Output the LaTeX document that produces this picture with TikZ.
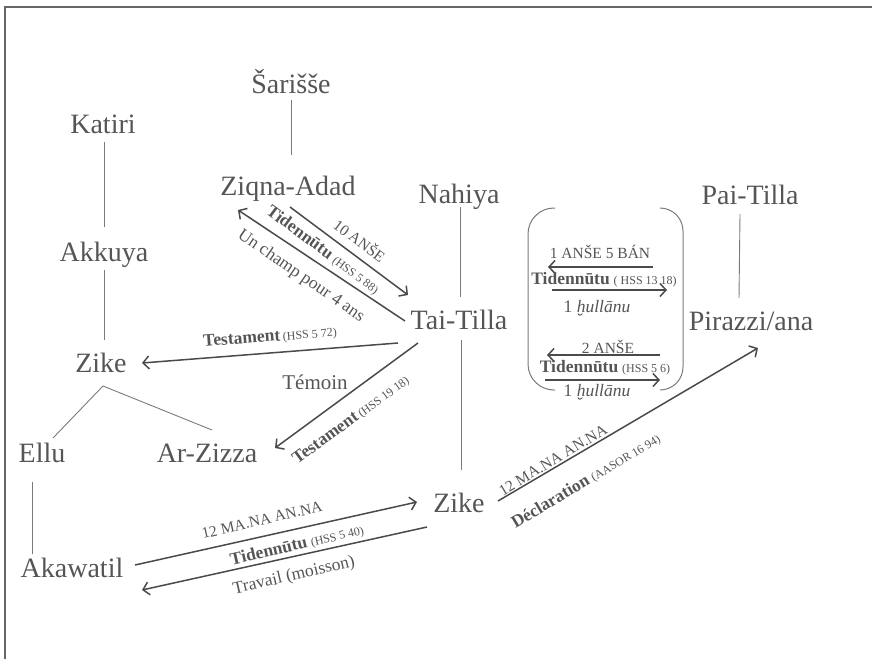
\documentclass[tikz,border=0pt]{standalone}
\usepackage{fontspec}
\setmainfont{Liberation Serif}
\usetikzlibrary{arrows.meta,calc}
\definecolor{txt}{HTML}{555555}
\definecolor{arr}{HTML}{4A4A4A}
\definecolor{thinl}{HTML}{7A7A7A}
\newcommand\tbold[1]{{\fontsize{17.5}{20}\selectfont\bfseries #1}}
\newcommand\tref[1]{{\fontsize{12}{14}\selectfont #1}}
\begin{document}
\begin{tikzpicture}[x=1pt,y=-1pt,
  person/.style={font=\fontsize{28}{31}\selectfont, text=txt, text height=18.5pt, text depth=0pt, inner sep=0pt, outer sep=0pt},
  lab/.style={font=\fontsize{15.5}{18}\selectfont, text=txt, inner sep=0pt},
  labtxt/.style={font=\fontsize{17.5}{20}\selectfont, text=txt, inner sep=0pt},
  kin/.style={draw=thinl, line width=0.9pt},
  arrw/.style={draw=arr, line width=1.5pt, -{Straight Barb[length=6pt,width=13pt,line width=1.5pt]}},
  brk/.style={draw=thinl, line width=1pt}]
\useasboundingbox (0,0) rectangle (872,659);
% frame
\draw[draw=gray!80!black, line width=1.3pt] (5,659) -- (5,7) -- (872,7);

% persons
\node[person] (sar) at (291,84) {Šarišše};
\node[person] (kat) at (103,124) {Katiri};
\node[person] (zq) at (288,186) {Ziqna-Adad};
\node[person] (nah) at (459,194) {Nahiya};
\node[person] (pai) at (750,195) {Pai-Tilla};
\node[person] (akk) at (104,252) {Akkuya};
\node[person] (tai) at (459,320) {Tai-Tilla};
\node[person] (pir) at (751,321) {Pirazzi/ana};
\node[person] (zl) at (101,363) {Zike};
\node[person] (ellu) at (42,453) {Ellu};
\node[person] (arz) at (207,453) {Ar-Zizza};
\node[person] (zb) at (459,503) {Zike};
\node[person] (aka) at (72,568) {Akawatil};

% kinship lines
\draw[kin] ($(sar)+(0,16)$) -- ($(zq)+(3,-31)$);
\draw[kin] ($(kat)+(1,18)$) -- ($(akk)+(0,-25)$);
\draw[kin] ($(akk)+(0,18)$) -- ($(zl)+(3,-23)$);
\draw[kin] ($(ellu)+(11,-15)$) -- ($(zl)+(2,23)$) -- ($(arz)+(5,-23)$);
\draw[kin] ($(ellu)+(-10,29)$) -- ($(aka)+(-40,-14)$);
\draw[kin] ($(nah)+(1,13)$) -- ($(tai)+(1,-23)$);
\draw[kin] ($(tai)+(2,20)$) -- ($(zb)+(2,-33)$);
\draw[kin] ($(pai)+(-10,19)$) -- ($(pir)+(-12,-23)$);

% transaction arrows
\draw[arrw] ($(zq)+(2,21)$) -- ($(tai)+(-51,-25)$);
\draw[arrw] ($(tai)+(-54,1)$) -- ($(zq)+(-50,24)$);
\draw[arrw] ($(tai)+(-61,23)$) -- ($(zl)+(41,0)$);
\draw[arrw] ($(tai)+(-41,23)$) -- ($(arz)+(68,-5)$);
\draw[arrw] ($(aka)+(63,-3)$) -- ($(zb)+(-42,-1)$);
\draw[arrw] ($(zb)+(-32,24)$) -- ($(aka)+(70,22)$);
\draw[arrw] ($(zb)+(39,-2)$) -- ($(pir)+(7,27)$);

% labels Ziqna / Tai-Tilla
\node[lab, rotate=-36.7] (l1) at (360,240) {10 ANŠE};
\node[lab, rotate=-36.5] (l2) at (323,250) {\tbold{Tidennūtu} \tref{(HSS 5 88)}};
\node[labtxt, rotate=-34.5] (l3) at (301,276) {Un champ pour 4 ans};
% labels Tai-Tilla / Zike / Ar-Zizza
\node[lab, rotate=4.5] (l4) at (270,337) {\tbold{Testament}\,\tref{(HSS 5 72)}};
\node[font=\fontsize{21}{24}\selectfont, text=txt, inner sep=0pt] (l5) at (315,382) {Témoin};
\node[lab, rotate=36.3] (l6) at (351,420) {\tbold{Testament}\,\tref{(HSS 19 18)}};
% labels Akawatil / Zike
\node[lab, rotate=13] (l7) at (262,520) {12 MA.NA AN.NA};
\node[lab, rotate=13] (l8) at (297,545) {\tbold{Tidennūtu} \tref{(HSS 5 40)}};
\node[labtxt, rotate=13] (l9) at (294,576) {Travail (moisson)};
% labels Zike / Pirazzi
\node[lab, rotate=31] (l10) at (553,460) {12 MA.NA AN.NA};
\node[lab, rotate=31] (l11) at (586,481) {\tbold{Déclaration} \tref{(AASOR 16 94)}};

% box with Pirazzi/ana exchanges
\draw[brk, rounded corners=26pt] (555,208) -- (528,208) -- (528,390) -- (555,390);
\draw[brk, rounded corners=23pt] (660,208) -- (683,208) -- (683,390) -- (660,390);
\coordinate (b1s) at (653,267); \coordinate (b1e) at (548,267);
\coordinate (b2s) at (552,290); \coordinate (b2e) at (667,290);
\coordinate (b3s) at (660,355); \coordinate (b3e) at (547,355);
\coordinate (b4s) at (545,380); \coordinate (b4e) at (660,380);
\draw[arrw] (b1s) -- (b1e);
\draw[arrw] (b2s) -- (b2e);
\draw[arrw] (b3s) -- (b3e);
\draw[arrw] (b4s) -- (b4e);
\node[lab] (k1) at (600,252) {1 ANŠE 5 BÁN};
\node[lab] (k2) at (604,280) {\tbold{Tidennūtu} \tref{( HSS 13 18)}};
\node[labtxt] (k3) at (597,308) {1 \textit{ḫullānu}};
\node[lab] (k4) at (608,347) {2 ANŠE};
\node[lab] (k5) at (605,368) {\tbold{Tidennūtu} \tref{(HSS 5 6)}};
\node[labtxt] (k6) at (597,392) {1 \textit{ḫullānu}};
\end{tikzpicture}
\end{document}
